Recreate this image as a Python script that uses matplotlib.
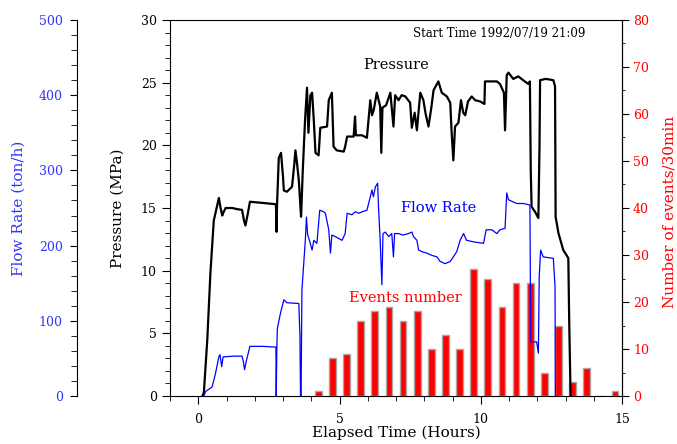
import matplotlib.pyplot as plt
from matplotlib.ticker import MultipleLocator

plt.rcParams['font.family'] = 'DejaVu Serif'

# pressure (MPa) against elapsed time (h)
p_time = [0.15, 0.20, 0.32, 0.43, 0.55, 0.65, 0.73, 0.79, 0.85, 0.88, 0.97, 1.2, 1.4, 1.55,
          1.62, 1.67, 1.75, 1.83, 2.3, 2.75, 2.77, 2.79, 2.85, 2.93, 3.0, 3.03, 3.14, 3.32,
          3.40, 3.44, 3.5, 3.56, 3.64, 3.70, 3.78, 3.85, 3.90, 3.97, 4.03, 4.09, 4.15, 4.26,
          4.32, 4.56, 4.62, 4.73, 4.79, 4.9, 5.15, 5.2, 5.27, 5.5, 5.55, 5.58, 5.8, 5.97,
          6.09, 6.15, 6.21, 6.32, 6.44, 6.48, 6.52, 6.65, 6.8, 6.91, 6.97, 7.09, 7.2, 7.33,
          7.5, 7.56, 7.66, 7.74, 7.86, 7.97, 8.05, 8.15, 8.25, 8.33, 8.5, 8.62, 8.8, 8.92,
          8.97, 9.03, 9.09, 9.21, 9.3, 9.38, 9.45, 9.55, 9.68, 9.8, 9.98, 10.13, 10.15,
          10.57, 10.68, 10.82, 10.86, 10.92, 10.98, 11.15, 11.33, 11.5, 11.68, 11.74, 11.77,
          11.80, 11.92, 12.04, 12.08, 12.1, 12.3, 12.57, 12.63, 12.65, 12.75, 12.92, 13.1,
          13.13, 13.18]
p_val = [0.0, 0.3, 4.5, 9.8, 14.0, 15.0, 15.8, 15.0, 14.4, 14.6, 15.0, 15.0, 14.9, 14.85,
         14.0, 13.6, 14.5, 15.5, 15.4, 15.3, 13.1, 15.3, 19.0, 19.4, 17.5, 16.4, 16.3, 16.7,
         18.5, 19.6, 18.5, 17.2, 14.3, 18.0, 22.0, 24.6, 21.0, 24.0, 24.2, 22.0, 19.4, 19.2,
         21.4, 21.5, 23.6, 24.2, 19.9, 19.6, 19.5, 19.9, 20.7, 20.7, 22.3, 20.8, 20.8, 20.6,
         23.6, 22.4, 22.8, 24.2, 23.1, 19.4, 23.0, 23.2, 24.2, 21.5, 24.0, 23.6, 24.0, 23.9,
         23.4, 21.4, 22.6, 21.2, 24.2, 23.6, 22.5, 21.5, 23.0, 24.4, 25.1, 24.2, 23.9, 23.4,
         21.0, 18.8, 21.5, 21.8, 23.6, 22.6, 22.4, 23.5, 23.9, 23.6, 23.5, 23.3, 25.1,
         25.1, 24.9, 24.2, 21.2, 25.6, 25.8, 25.3, 25.5, 25.2, 24.9, 25.1, 18.0,
         15.1, 14.7, 14.2, 20.0, 25.2, 25.3, 25.2, 24.7, 14.3, 13.0, 11.65, 11.0,
         6.1, 0.0]

# flow rate (ton/h) against elapsed time (h)
f_time = [0.2, 0.26, 0.49, 0.61, 0.73, 0.77, 0.83, 0.88, 1.26, 1.55, 1.6, 1.64, 1.71, 1.83,
          2.3, 2.75, 2.76, 2.78, 2.80, 2.91, 3.03, 3.14, 3.56, 3.6, 3.62, 3.64, 3.67, 3.79,
          3.83, 3.87, 3.95, 4.03, 4.09, 4.2, 4.3, 4.44, 4.5, 4.62, 4.68, 4.73, 4.85, 5.09,
          5.2, 5.27, 5.44, 5.56, 5.68, 5.8, 5.97, 6.03, 6.15, 6.2, 6.27, 6.35, 6.38, 6.44,
          6.5, 6.54, 6.62, 6.74, 6.85, 6.91, 6.95, 7.09, 7.25, 7.44, 7.56, 7.62, 7.74, 7.8,
          7.92, 8.09, 8.27, 8.45, 8.56, 8.74, 8.92, 9.03, 9.15, 9.27, 9.39, 9.5, 9.74, 10.1,
          10.19, 10.39, 10.57, 10.68, 10.86, 10.92, 10.98, 11.27, 11.51, 11.74, 11.77, 11.98,
          12.04, 12.07, 12.12, 12.21, 12.57, 12.63, 12.64]
f_val = [0, 6, 12, 30, 52, 55, 39, 52, 53, 53, 45, 35, 48, 66,
         66, 65, 0, 60, 90, 110, 128, 124, 123, 80, 0, 0, 141, 207,
         238, 215, 205, 194, 207, 203, 247, 245, 243, 221, 190, 214, 212, 207,
         216, 243, 241, 245, 243, 245, 247, 256, 274, 265, 278, 283, 252, 207,
         148, 216, 218, 212, 216, 185, 216, 216, 214, 216, 218, 212, 207, 194,
         192, 190, 187, 185, 179, 176, 179, 185, 192, 207, 216, 207, 205, 203,
         221, 221, 216, 221, 223, 270, 261, 256, 256, 254, 72, 72,
         57, 159, 194, 185, 183, 145, 0]

# events per 30 min
ev_time = [4.25, 4.75, 5.25, 5.75, 6.25, 6.75, 7.25, 7.75, 8.25, 8.75, 9.25, 9.75,
           10.25, 10.75, 11.25, 11.75, 12.25, 12.75, 13.25, 13.75, 14.25, 14.75]
ev_count = [1, 8, 9, 16, 18, 19, 16, 18, 10, 13, 10, 27,
            25, 19, 24, 24, 5, 15, 3, 6, 0, 1]

blue = '#0000ff'
red = '#ff0000'

fig = plt.figure(figsize=(6.77, 4.44), dpi=100)
ax = fig.add_axes([170 / 677, 1 - 396 / 444, 452 / 677, 376 / 444])
ax_e = ax.twinx()
ax_f = ax.twinx()

ax_e.set_zorder(1)
ax.set_zorder(2)
ax_f.set_zorder(3)
ax.patch.set_visible(False)
ax_f.patch.set_visible(False)

# events bars
ax_e.bar(ev_time, ev_count, width=0.24, color=red, edgecolor='#a8a8a8', linewidth=1.0)
ax_e.set_ylim(0, 80)
ax_e.yaxis.set_major_locator(MultipleLocator(10))
ax_e.yaxis.set_minor_locator(MultipleLocator(5))
ax_e.tick_params(axis='y', which='major', length=5, pad=3, labelcolor=red, labelsize=9)
ax_e.tick_params(axis='y', which='minor', length=2.5)
ax_e.set_ylabel('Number of events/30min', color=red, fontsize=11)
ax_e.yaxis.set_label_coords(1.09, 0.49)
for s in ['left', 'top', 'bottom']:
    ax_e.spines[s].set_visible(False)

# pressure
ax.plot(p_time, p_val, color='black', lw=1.6)
ax.set_xlim(-1, 15)
ax.set_ylim(0, 30)
ax.set_xticks([0, 5, 10, 15])
ax.xaxis.set_minor_locator(MultipleLocator(1))
ax.yaxis.set_major_locator(MultipleLocator(5))
ax.yaxis.set_minor_locator(MultipleLocator(1))
ax.tick_params(axis='both', which='major', length=6, labelsize=9)
ax.tick_params(axis='both', which='minor', length=3.5)
ax.tick_params(axis='x', which='major', pad=6)
ax.set_xlabel('Elapsed Time (Hours)', fontsize=11, labelpad=0)
ax.set_ylabel('Pressure (MPa)', fontsize=11)
ax.yaxis.set_label_coords(-0.10, 0.5)

# flow rate on an offset left axis
ax_f.plot(f_time, f_val, color=blue, lw=0.9)
ax_f.set_ylim(0, 500)
ax_f.yaxis.set_ticks_position('left')
ax_f.yaxis.set_label_position('left')
ax_f.spines['left'].set_position(('outward', 93 * 0.72))
ax_f.spines['left'].set_visible(True)
for s in ['right', 'top', 'bottom']:
    ax_f.spines[s].set_visible(False)
ax_f.yaxis.set_major_locator(MultipleLocator(100))
ax_f.yaxis.set_minor_locator(MultipleLocator(20))
ax_f.tick_params(axis='y', which='major', length=5.3, pad=5, labelcolor='#3333ff', labelsize=9)
ax_f.tick_params(axis='y', which='minor', length=4)
ax_f.set_ylabel('Flow Rate (ton/h)', color='#3333ff', fontsize=11)
ax_f.yaxis.set_label_coords(-0.32, 0.5)

# annotations
ax.text(0.728, 0.965, 'Start Time 1992/07/19 21:09', transform=ax.transAxes,
        ha='center', va='center', fontsize=8.5)
ax.text(7.0, 26.4, 'Pressure', ha='center', va='center', fontsize=10.5)
ax.text(8.52, 15.0, 'Flow Rate', ha='center', va='center', fontsize=10.5, color=blue)
ax.text(7.34, 7.8, 'Events number', ha='center', va='center', fontsize=10.5, color=red)

fig.savefig('out.png', dpi=100)
